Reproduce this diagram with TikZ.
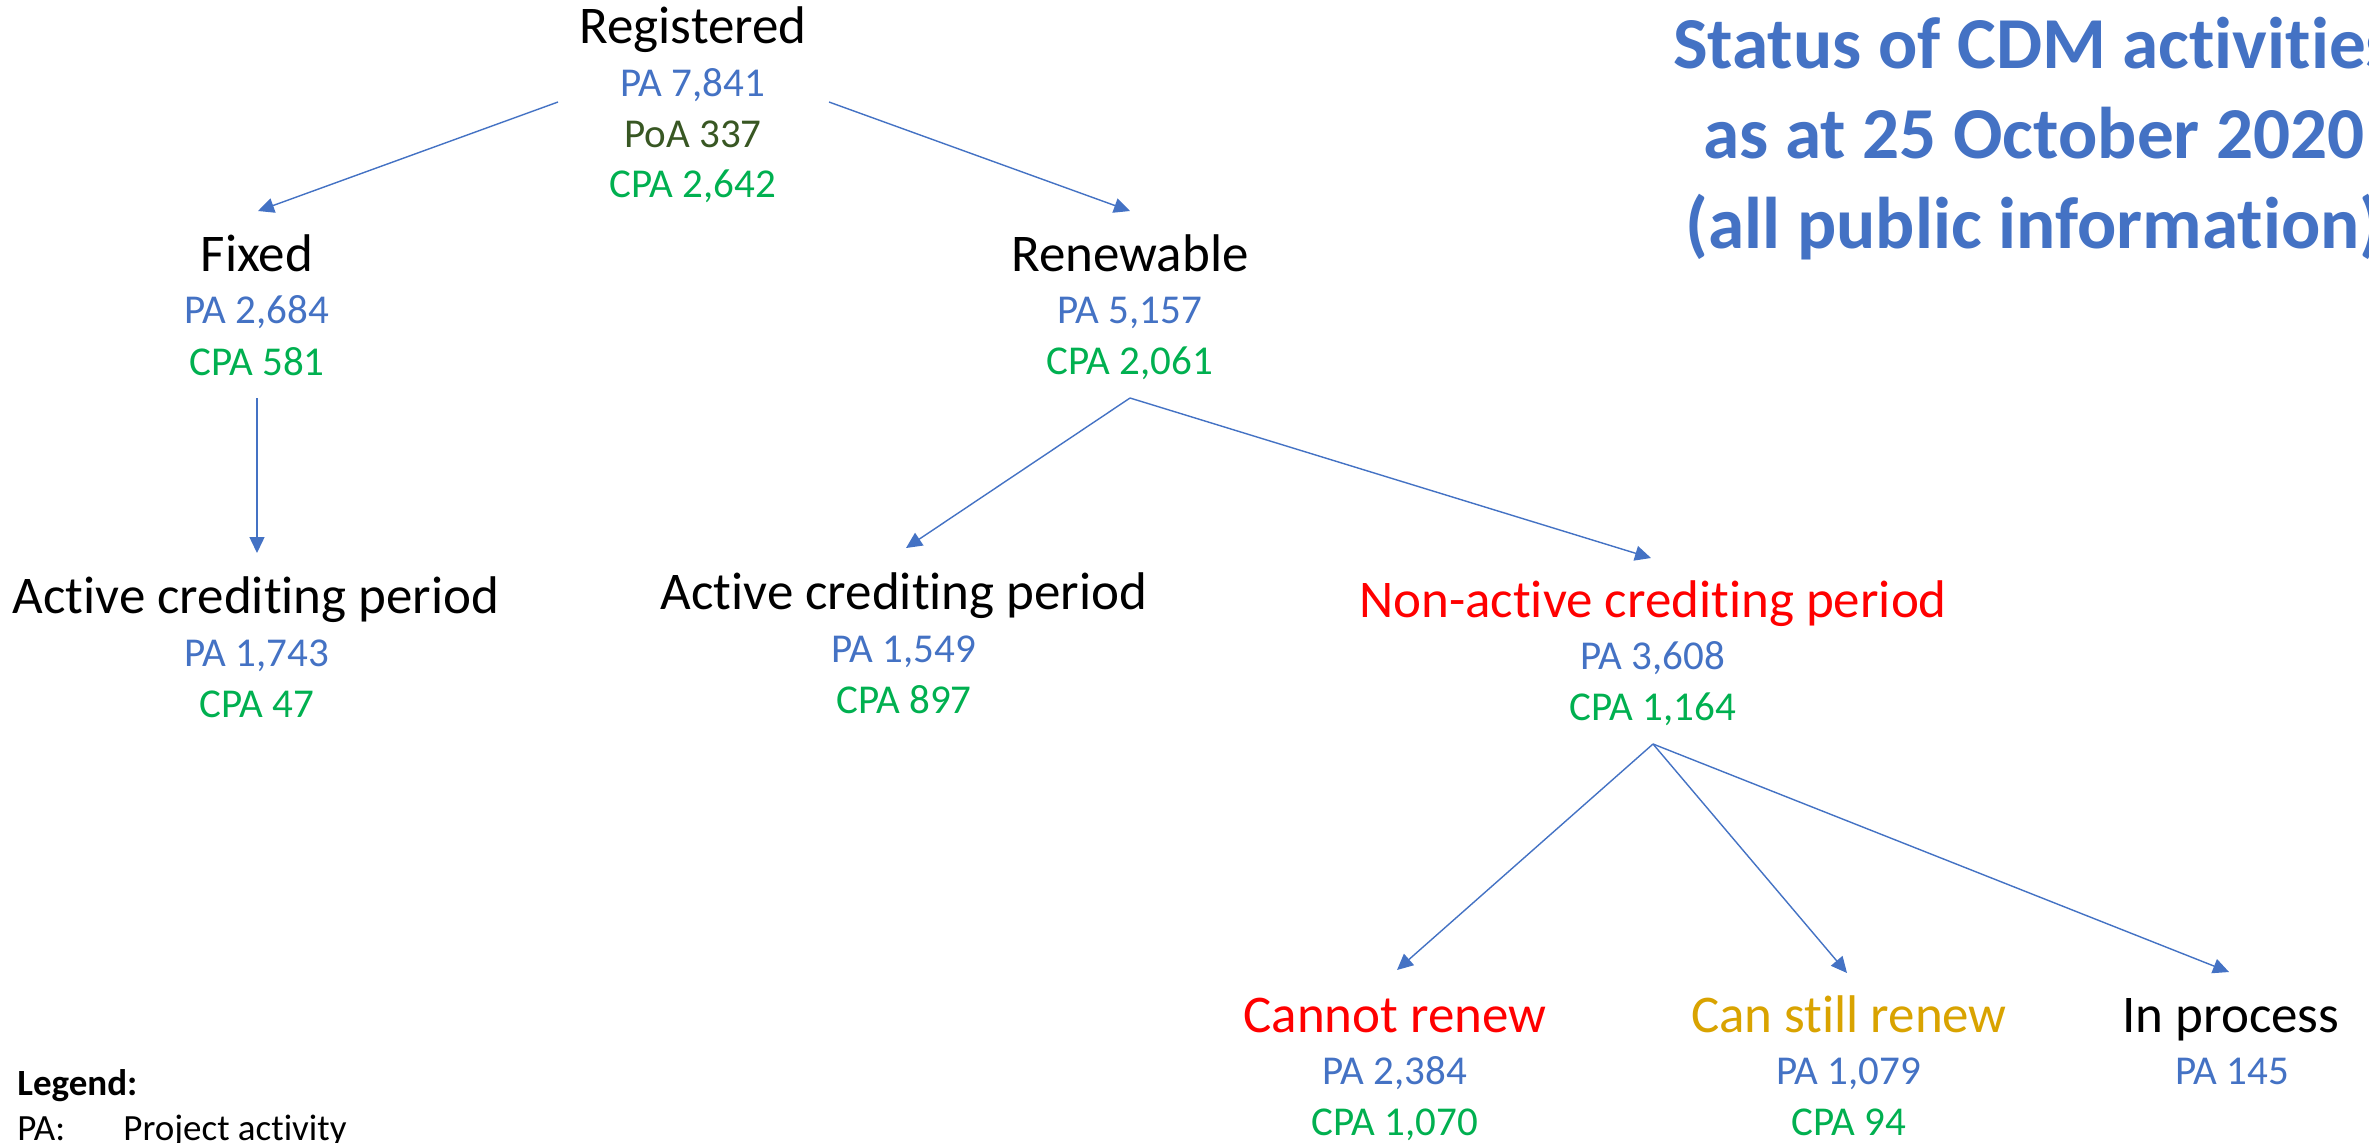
\documentclass[tikz,border=0pt]{standalone}
\usepackage{fontspec}
\setmainfont{Carlito}[Ligatures={NoCommon}]
\usetikzlibrary{arrows.meta}
\definecolor{pablue}{HTML}{4472C4}
\definecolor{cpagreen}{HTML}{00B050}
\definecolor{poagreen}{HTML}{385723}
\definecolor{nared}{HTML}{FF0000}
\definecolor{goldtxt}{HTML}{D9A300}
\begin{document}
\begin{tikzpicture}[x=0.5pt,y=-0.5pt,
  lab/.style={anchor=base, inner sep=0pt, font=\fontsize{26.5}{32}\selectfont},
  num/.style={anchor=base, inner sep=0pt, font=\fontsize{20.5}{25}\selectfont},
  pa/.style={num, text=pablue},
  cpa/.style={num, text=cpagreen},
  ttl/.style={anchor=base, inner sep=0pt, text=pablue, font=\fontsize{36.6}{45}\selectfont\bfseries},
  leg/.style={anchor=base west, inner sep=0pt, font=\fontsize{18.5}{22}\selectfont},
  arr/.style={draw=pablue, line width=0.7pt, -{Triangle[length=8pt,width=7.5pt]}}]
\path[use as bounding box] (0,0) rectangle (2369,1142);
\fill[white] (0,0) rectangle (2369,1142);

% title
\node[ttl] (t1) at (2034,68) {Status of CDM activities};
\node[ttl] (t2) at (2034,158) {as at 25 October 2020};
\node[ttl] (t3) at (2034,248) {(all public information)};

% registered
\node[lab] (reg) at (693,43) {Registered};
\node[pa] (regPA) at (693,96) {PA 7,841};
\node[num, text=poagreen] (regPoA) at (693,147) {PoA 337};
\node[cpa] (regCPA) at (693,197) {CPA 2,642};

% fixed
\node[lab] (fix) at (257,271) {Fixed};
\node[pa] (fixPA) at (257,323) {PA 2,684};
\node[cpa] (fixCPA) at (257,375) {CPA 581};

% renewable
\node[lab] (ren) at (1130,271) {Renewable};
\node[pa] (renPA) at (1130,323) {PA 5,157};
\node[cpa] (renCPA) at (1130,374) {CPA 2,061};

% active left
\node[lab] (actL) at (256,613) {Active crediting period};
\node[pa] (actLPA) at (257,666) {PA 1,743};
\node[cpa] (actLCPA) at (257,717) {CPA 47};

% active mid
\node[lab] (actM) at (904,609) {Active crediting period};
\node[pa] (actMPA) at (904,662) {PA 1,549};
\node[cpa] (actMCPA) at (904,713) {CPA 897};

% non-active
\node[lab, text=nared] (non) at (1653,617) {Non-active crediting period};
\node[pa] (nonPA) at (1653,669) {PA 3,608};
\node[cpa] (nonCPA) at (1653,720) {CPA 1,164};

% bottom row
\node[lab, text=nared] (can) at (1395,1032) {Cannot renew};
\node[pa] (canPA) at (1395,1084) {PA 2,384};
\node[cpa] (canCPA) at (1395,1135) {CPA 1,070};

\node[lab, text=goldtxt] (still) at (1849,1032) {Can still renew};
\node[pa] (stillPA) at (1849,1084) {PA 1,079};
\node[cpa] (stillCPA) at (1849,1135) {CPA 94};

\node[lab] (inp) at (2231,1032) {In process};
\node[pa] (inpPA) at (2232,1084) {PA 145};

% legend
\node[leg, font=\fontsize{18.5}{22}\selectfont\bfseries] (legend) at (17,1095) {Legend:};
\node[leg] (legPA) at (17,1140) {PA:};
\node[leg] (legPAt) at (123,1140) {Project activity};

% connector end points
\coordinate (regL) at (558,102);
\coordinate (regR) at (829,102);
\coordinate (fixIn) at (258,211);
\coordinate (renIn) at (1130,211);
\coordinate (fixOut) at (257,398);
\coordinate (actLIn) at (257,553);
\coordinate (renOut) at (1130,398);
\coordinate (actMIn) at (906,548);
\coordinate (nonIn) at (1651,558);
\coordinate (nonOut) at (1653,744);
\coordinate (canIn) at (1397,970);
\coordinate (stillIn) at (1847,973);
\coordinate (inpIn) at (2229,972);

\draw[arr] (regL) -- (fixIn);
\draw[arr] (regR) -- (renIn);
\draw[arr] (fixOut) -- (actLIn);
\draw[arr] (renOut) -- (actMIn);
\draw[arr] (renOut) -- (nonIn);
\draw[arr] (nonOut) -- (canIn);
\draw[arr] (nonOut) -- (stillIn);
\draw[arr] (nonOut) -- (inpIn);
\end{tikzpicture}
\end{document}
